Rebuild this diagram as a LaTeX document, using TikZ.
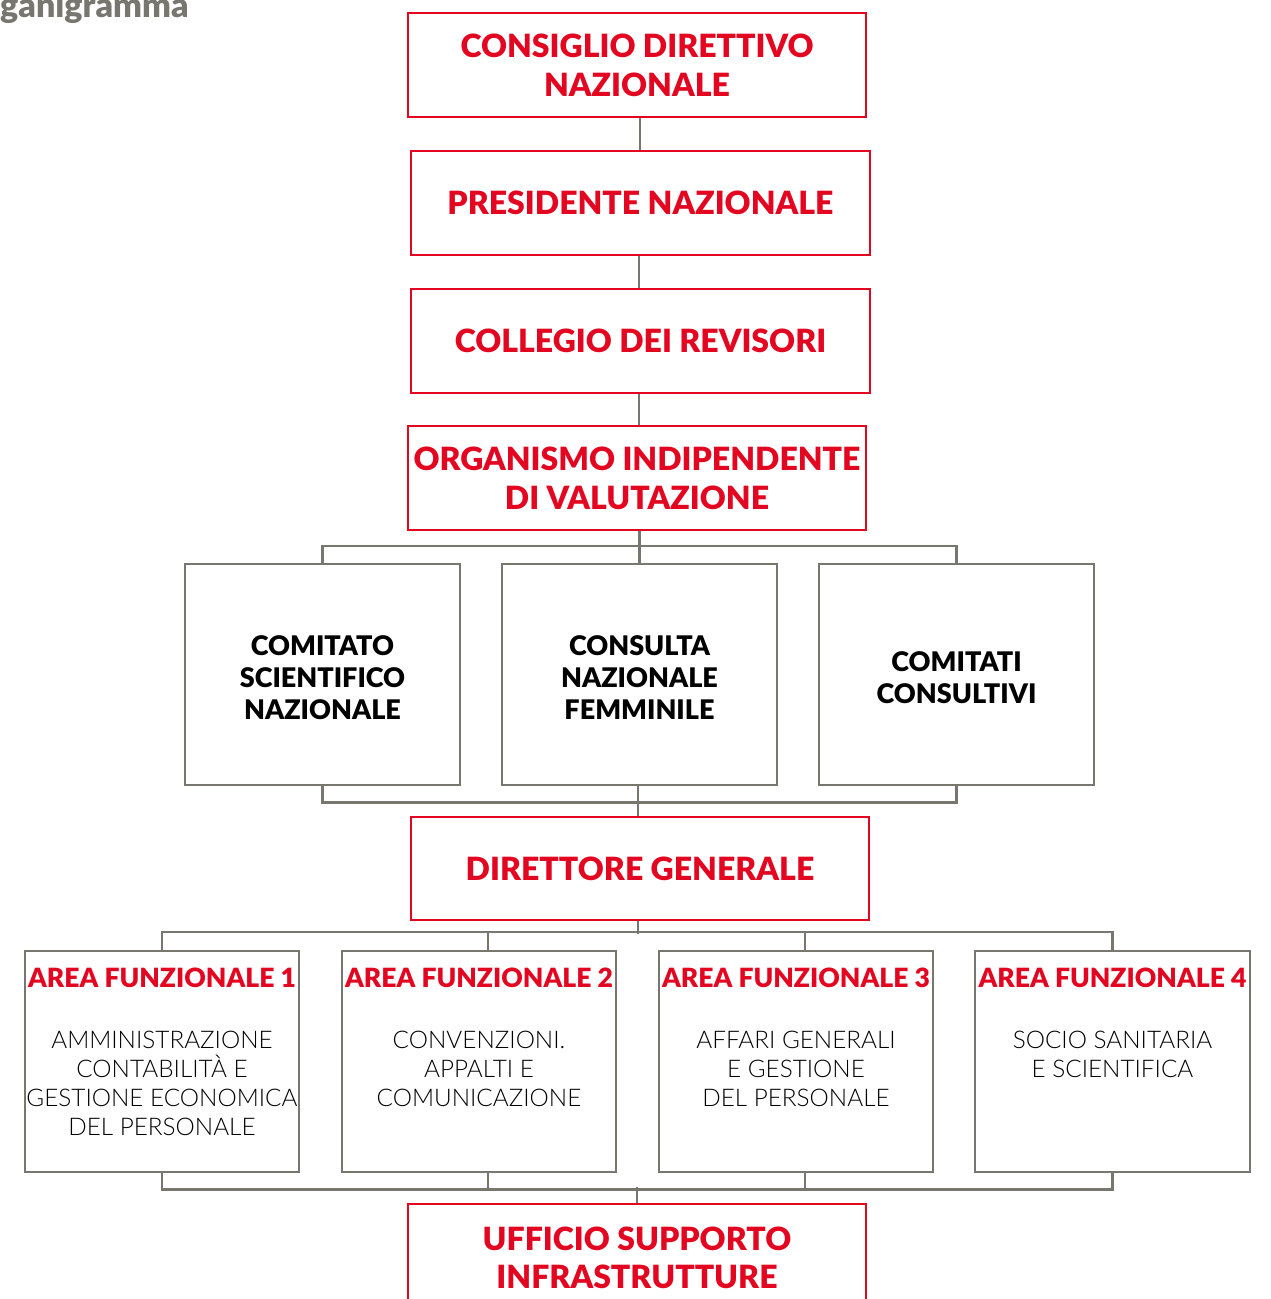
\documentclass[tikz,border=0pt]{standalone}
\usepackage{fontspec}
\setmainfont{Lato}
\newfontfamily\heavyfont{Lato Black}
\newfontfamily\lightfont{Lato Light}
\definecolor{myred}{RGB}{227,6,33}
\definecolor{mygray}{RGB}{119,119,111}
\begin{document}
\begin{tikzpicture}[x=1pt,y=-1pt,
  redbox/.style={draw=myred, line width=2.5pt, minimum width=458pt, minimum height=104pt, inner sep=0pt, align=center, text=myred, font=\fontsize{32}{39}\selectfont\heavyfont},
  graybox/.style={draw=mygray, line width=2.5pt, minimum width=275pt, minimum height=221pt, inner sep=0pt},
  comtext/.style={align=center, inner sep=0pt, font=\fontsize{27}{32}\selectfont\heavyfont},
  areatitle/.style={text=myred, inner sep=0pt, font=\fontsize{26.5}{26}\selectfont\heavyfont},
  areabody/.style={align=center, anchor=north, inner sep=0pt, font=\fontsize{24.3}{29}\selectfont\lightfont},
  conn/.style={draw=mygray, line width=2.5pt},
]
\useasboundingbox (0,0) rectangle (1271,1299);

\node[anchor=base west, inner sep=0pt, text=mygray, font=\fontsize{34}{34}\selectfont\heavyfont] (ttl) at (0,17) {ganigramma};

% top chain
\node[redbox] (cdn) at (637,65) {CONSIGLIO DIRETTIVO\\NAZIONALE};
\node[redbox, minimum width=459pt] (pn) at (640.5,203) {PRESIDENTE NAZIONALE};
\node[redbox, minimum width=459pt] (cdr) at (640.5,341) {COLLEGIO DEI REVISORI};
\node[redbox] (oiv) at (637,478) {ORGANISMO INDIPENDENTE\\DI VALUTAZIONE};

% committees
\node[graybox] (csn) at (322.5,674.5) {};
\node[graybox] (cnf) at (639.5,674.5) {};
\node[graybox] (cc) at (956.5,674.5) {};
\node[comtext] (csnt) at ([yshift=-3.5pt]csn.center) {COMITATO\\SCIENTIFICO\\NAZIONALE};
\node[comtext] (cnft) at ([yshift=-3.5pt]cnf.center) {CONSULTA\\NAZIONALE\\FEMMINILE};
\node[comtext] (cct) at ([yshift=-3.5pt]cc.center) {COMITATI\\CONSULTIVI};

\node[redbox, minimum height=103pt] (dg) at (640,868.5) {DIRETTORE GENERALE};

% areas
\node[graybox, minimum width=274pt] (a1) at (162,1061.5) {};
\node[graybox, minimum width=274pt] (a2) at (479,1061.5) {};
\node[graybox, minimum width=274pt] (a3) at (796,1061.5) {};
\node[graybox, minimum width=275pt] (a4) at (1112.5,1061.5) {};
\node[areatitle] (a1t) at ([yshift=-28pt]a1.north) {AREA FUNZIONALE 1};
\node[areatitle] (a2t) at ([yshift=-28pt]a2.north) {AREA FUNZIONALE 2};
\node[areatitle] (a3t) at ([yshift=-28pt]a3.north) {AREA FUNZIONALE 3};
\node[areatitle] (a4t) at ([yshift=-28pt]a4.north) {AREA FUNZIONALE 4};
\node[areabody] (a1b) at ([yshift=-81pt]a1.north) {AMMINISTRAZIONE\\CONTABILITÀ E\\GESTIONE ECONOMICA\\DEL PERSONALE};
\node[areabody] (a2b) at ([yshift=-81pt]a2.north) {CONVENZIONI.\\APPALTI E\\COMUNICAZIONE};
\node[areabody] (a3b) at ([yshift=-81pt]a3.north) {AFFARI GENERALI\\E GESTIONE\\DEL PERSONALE};
\node[areabody] (a4b) at ([yshift=-81pt]a4.north) {SOCIO SANITARIA\\E SCIENTIFICA};

\node[redbox, minimum height=150pt] (usi) at (637,1279) {};
\node[text=myred, align=center, inner sep=0pt, font=\fontsize{32}{38}\selectfont\heavyfont] (usit) at (637,1258) {UFFICIO SUPPORTO\\INFRASTRUTTURE};

% connectors
\draw[conn] ([xshift=3pt]cdn.south) -- ([xshift=3pt]cdn.south |- pn.north);
\draw[conn] ([xshift=-1.5pt]pn.south) -- ([xshift=-1.5pt]pn.south |- cdr.north);
\draw[conn] ([xshift=-1.5pt]cdr.south) -- ([xshift=-1.5pt]cdr.south |- oiv.north);
\draw[conn] (cnf.north) -- (cnf.north |- oiv.south);
\draw[conn] (csn.north) -- ++(0,-17) -| (cc.north);
\draw[conn] (csn.south) -- ++(0,16) -| (cc.south);
\draw[conn] ([xshift=-1.5pt]cnf.south) -- ([xshift=-1.5pt]cnf.south |- dg.north);
\draw[conn] ([xshift=-2pt]dg.south) -- ++(0,13);
\draw[conn] (a1.north) -- ++(0,-18) -| (a4.north);
\draw[conn] ([xshift=9pt]a2.north) -- ++(0,-18);
\draw[conn] ([xshift=9pt]a3.north) -- ++(0,-18);
\draw[conn] (a1.south) -- ++(0,16) -| (a4.south);
\draw[conn] ([xshift=9pt]a2.south) -- ++(0,16);
\draw[conn] ([xshift=9pt]a3.south) -- ++(0,16);
\draw[conn] (usi.north) -- ++(0,-16);
\end{tikzpicture}
\end{document}
